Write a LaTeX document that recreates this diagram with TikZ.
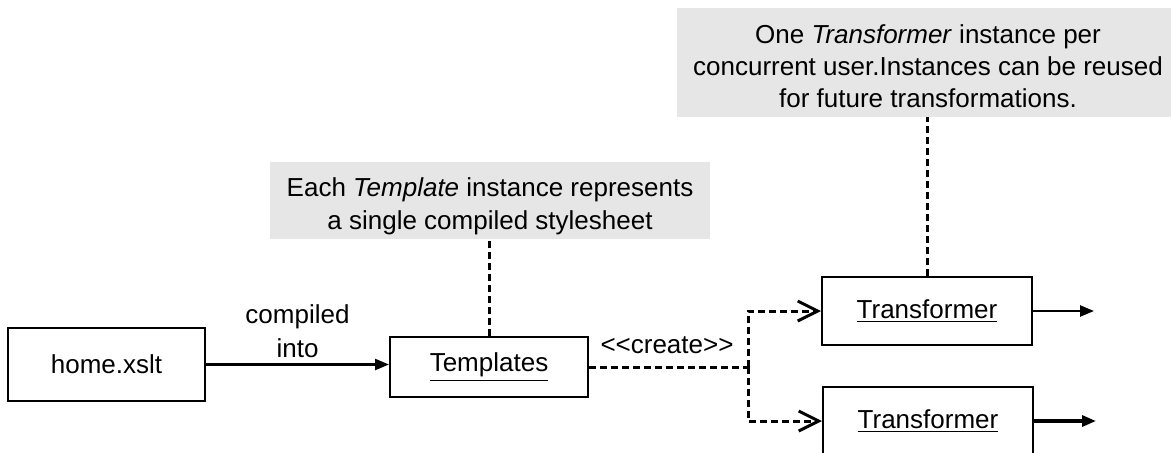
\documentclass[tikz,border=0pt]{standalone}
\usepackage{fontspec}
\setmainfont{Liberation Sans}
\usetikzlibrary{arrows.meta}
\pgfdeclarelayer{bg}
\pgfsetlayers{bg,main}
\definecolor{notegray}{RGB}{230,230,230}
\tikzset{
    every node/.style={font=\fontsize{13}{17}\selectfont, inner sep=0pt},
    box/.style={rectangle, draw, line width=1pt},
    note/.style={rectangle, fill=notegray, align=center},
    link/.style={line width=1.2pt, -{Triangle[length=7pt,width=5.5pt]}},
    dashline/.style={line width=1.5pt, dash pattern=on 3.5pt off 2pt},
    createlink/.style={dashline, -{Straight Barb[length=10pt,width=10pt]}}
}

\begin{document}
\begin{tikzpicture}[x=0.5pt, y=0.5pt]
  \useasboundingbox (0,0) rectangle (1171,452);
  \clip (0,0) rectangle (1171,452);
  \node (xslt) [box, minimum width=98.5pt, minimum height=36.5pt] at (106.5, 87.5) {home.xslt};
  \node (templ) [box, minimum width=99pt, minimum height=30pt] at (489, 85) {\underline{Templates}};
  \node (trans1) [box, minimum width=105pt, minimum height=34pt] at (927, 141) {\underline{Transformer}};
  \node (trans2) [box, minimum width=105pt, minimum height=34pt] at (928, 31) {\underline{Transformer}};
  \node (note1) [note, minimum width=220pt, minimum height=38.5pt,
    font=\fontsize{13}{16.5}\selectfont] at (490, 251.5)
    {\rule{0pt}{15.5pt}Each \textit{Template} instance represents\\a single compiled stylesheet};
  \node (note2) [note, minimum width=251pt, minimum height=54.5pt,
    font=\fontsize{13}{16}\selectfont] at (928, 389.5)
    {\rule{0pt}{13pt}One \textit{Transformer} instance per\\concurrent user.Instances can be reused\\for future transformations.};
  \node (createlbl) at (667, 107) {<\kern0pt<create>\kern0pt>};
  \coordinate (split) at (748, 85);
  \coordinate (out1) at (1094, 141);
  \coordinate (out2) at (1096, 31);

  \begin{pgfonlayer}{bg}
	  \draw[link] (xslt.east) -- node[above=3pt, align=center] (compiled) {compiled\\into} (xslt.east -| templ.west);
	  \draw[dashline] (templ.north) -- (templ.north |- note1.south);
	  \draw[dashline] (trans1.north) -- (trans1.north |- note2.south);
	  \draw[dashline] (templ.east) -- (split);
	  \draw[createlink] (split) |- (trans1.west);
	  \draw[createlink] (split) |- (trans2.west);
	  \draw[link] (trans1.east) -- (out1);
	  \draw[link, line width=1.6pt] (trans2.east) -- (out2);
  \end{pgfonlayer}

\end{tikzpicture}
\end{document}
